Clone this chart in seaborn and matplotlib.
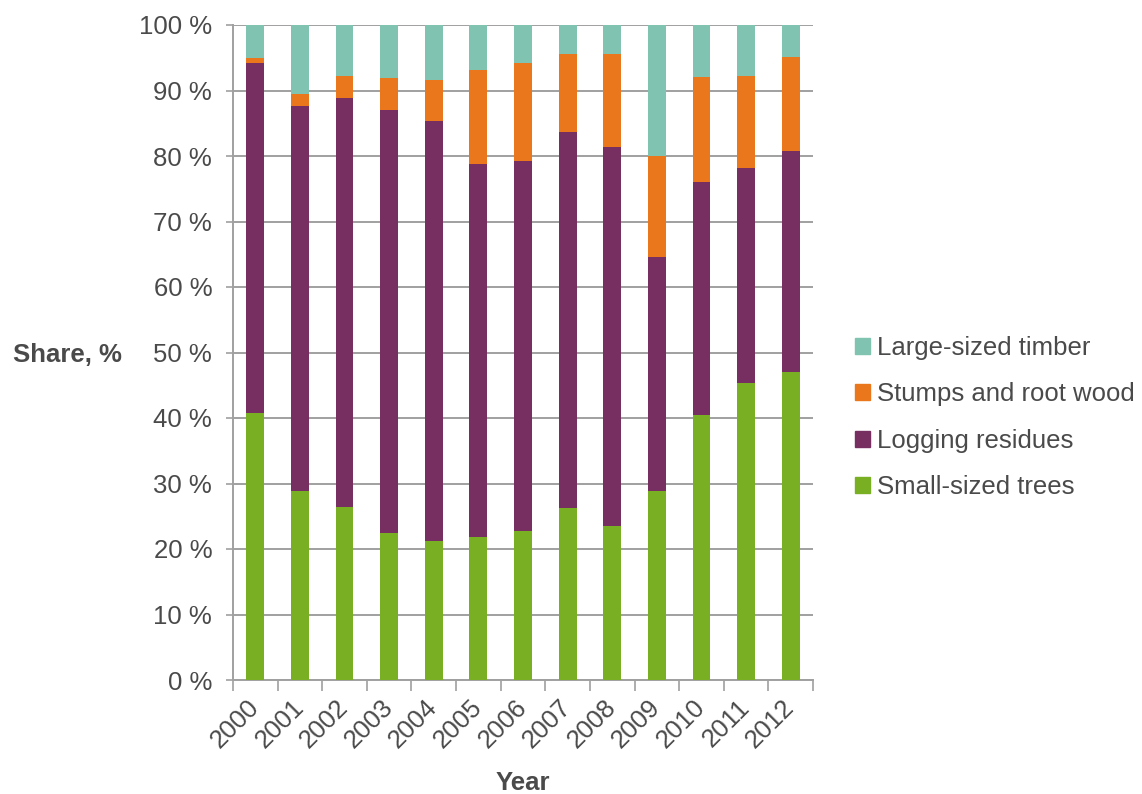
import matplotlib
matplotlib.use("Agg")
import matplotlib.pyplot as plt
import matplotlib.patches as mpatches
import numpy as np
import pandas as pd
import seaborn as sns

years = ["2000", "2001", "2002", "2003", "2004", "2005", "2006",
         "2007", "2008", "2009", "2010", "2011", "2012"]
small_sized_trees = [40.8, 28.9, 26.4, 22.5, 21.2, 21.8, 22.7, 26.3, 23.5, 28.9, 40.5, 45.4, 47.0]
logging_residues = [53.4, 58.8, 62.5, 64.5, 64.1, 57.0, 56.6, 57.4, 57.8, 35.7, 35.6, 32.7, 33.8]
stumps_root_wood = [0.8, 1.7, 3.3, 4.9, 6.3, 14.4, 14.9, 11.8, 14.3, 15.4, 16.0, 14.1, 14.3]
large_sized_timber = [5.0, 10.6, 7.8, 8.1, 8.4, 6.8, 5.8, 4.5, 4.4, 20.0, 7.9, 7.8, 4.9]

series_names = ["Small-sized trees", "Logging residues", "Stumps and root wood", "Large-sized timber"]
series_colors = ["#79AF22", "#772F61", "#EA771C", "#7FC3B0"]

sns.set_theme(style="white")
plt.rcParams["font.family"] = ["Liberation Sans", "DejaVu Sans"]
TXT = "#4a4a4a"
GRID = "#a0a0a0"
FS = 18.5

df = pd.DataFrame({
    "Year": years,
    series_names[0]: small_sized_trees,
    series_names[1]: logging_residues,
    series_names[2]: stumps_root_wood,
    series_names[3]: large_sized_timber,
})
cum = df[series_names].cumsum(axis=1)

fig = plt.figure(figsize=(11.42, 7.94), dpi=100)
ax = fig.add_axes([233 / 1142, 1 - 680 / 794, 580 / 1142, 655 / 794])

# stacked bars: draw cumulative totals from the top layer down
for name, color in reversed(list(zip(series_names, series_colors))):
    sns.barplot(x=df["Year"], y=cum[name], color=color, saturation=1,
                width=0.4, ax=ax, zorder=3, linewidth=0)

ax.set_xlim(-0.5, len(years) - 0.5)
ax.set_ylim(0, 100)
ax.set_yticks(np.arange(0, 101, 10))
ax.set_yticklabels([f"{v} %" for v in range(0, 101, 10)], fontsize=FS, color=TXT)
ax.yaxis.grid(True, color=GRID, linewidth=1.4, zorder=0)
ax.set_axisbelow(True)
ax.tick_params(axis="y", which="major", length=5, width=1.2, color=GRID,
               direction="out", pad=10, left=True)

ax.set_xticks(range(len(years)))
ax.set_xticklabels(years, rotation=45, ha="right", va="center",
                   rotation_mode="anchor", fontsize=FS, color=TXT)
ax.tick_params(axis="x", which="major", length=0, pad=17)
ax.set_xticks(np.arange(-0.5, len(years), 1.0), minor=True)
ax.tick_params(axis="x", which="minor", length=8, width=1.2, color=GRID,
               direction="out", bottom=True)

for side in ["top", "right"]:
    ax.spines[side].set_visible(False)
for side in ["left", "bottom"]:
    ax.spines[side].set_color(GRID)
    ax.spines[side].set_linewidth(1.4)

ax.set_xlabel("")
ax.set_ylabel("")
fig.text(67 / 1142, 1 - 355 / 794, "Share, %", fontsize=FS, fontweight="bold",
         color=TXT, ha="center", va="center")
fig.text(523 / 1142, 1 - 783 / 794, "Year", fontsize=FS, fontweight="bold",
         color=TXT, ha="center", va="center")

handles = [mpatches.Patch(color=c, label=n)
           for n, c in reversed(list(zip(series_names, series_colors)))]
fig.legend(handles=handles, loc="upper left",
           bbox_to_anchor=(855 / 1142, 1 - 336 / 794), frameon=False,
           fontsize=FS, labelcolor=TXT, borderpad=0, borderaxespad=0,
           handlelength=0.58, handleheight=0.58, handletextpad=0.28,
           labelspacing=0.87)

fig.savefig("out.png", dpi=100)
